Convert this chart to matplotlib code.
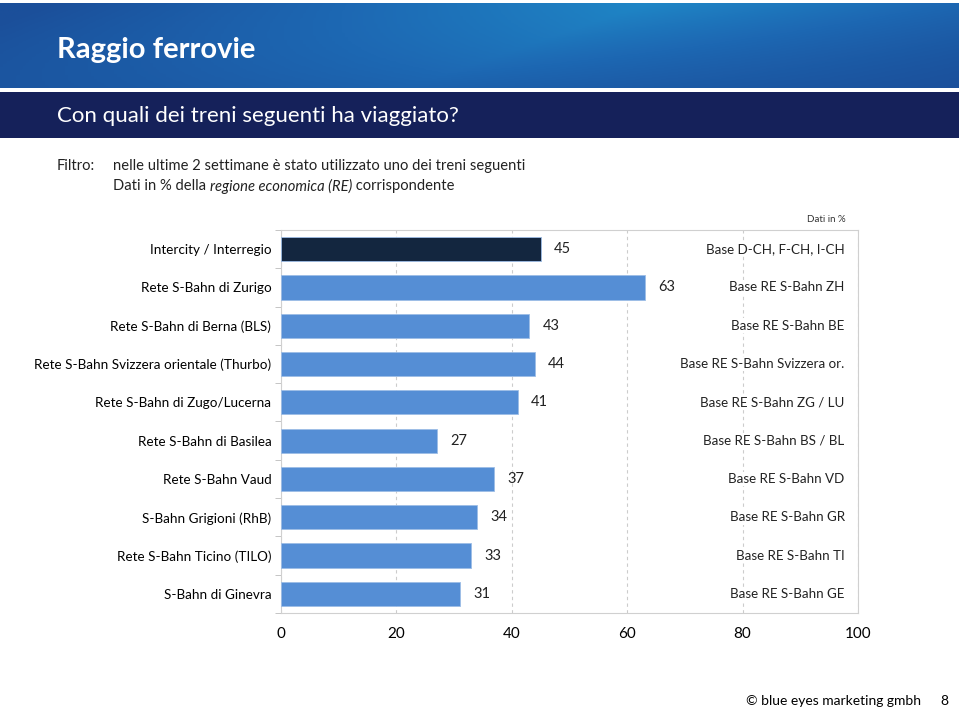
import numpy as np
import matplotlib.pyplot as plt
from matplotlib.colors import LinearSegmentedColormap

plt.rcParams['font.family'] = ['Lato', 'DejaVu Sans']

## Data
categories = ['Intercity / Interregio', 'Rete S-Bahn di Zurigo', 'Rete S-Bahn di Berna (BLS)',
              'Rete S-Bahn Svizzera orientale (Thurbo)', 'Rete S-Bahn di Zugo/Lucerna',
              'Rete S-Bahn di Basilea', 'Rete S-Bahn Vaud', 'S-Bahn Grigioni (RhB)',
              'Rete S-Bahn Ticino (TILO)', 'S-Bahn di Ginevra']
values = [45, 63, 43, 44, 41, 27, 37, 34, 33, 31]
bases = ['Base D-CH, F-CH, I-CH', 'Base RE S-Bahn ZH', 'Base RE S-Bahn BE',
         'Base RE S-Bahn Svizzera or.', 'Base RE S-Bahn ZG / LU', 'Base RE S-Bahn BS / BL',
         'Base RE S-Bahn VD', 'Base RE S-Bahn GR', 'Base RE S-Bahn TI', 'Base RE S-Bahn GE']
xticks = [0, 20, 40, 60, 80, 100]

fig = plt.figure(figsize=(9.59, 7.08), dpi=100)

## Header bands
hdr = fig.add_axes([0, 1 - 88/708, 1, 85/708])
xx = np.linspace(0, 1, 300)
yy = np.linspace(0, 1, 60)
X, Y = np.meshgrid(xx, yy)
g = np.clip(1 - np.abs(X - 0.55 - 0.25*(Y - 0.5)) * 1.6, 0, 1) * (0.4 + 0.6*Y)
cmap = LinearSegmentedColormap.from_list('hb', ['#1b4f9a', '#1d68b3', '#1f86c6'])
hdr.imshow(g, cmap=cmap, aspect='auto', extent=[0, 1, 0, 1], origin='lower')
hdr.axis('off')
fig.text(57/959, 1 - 50/708, 'Raggio ferrovie', color='white', fontsize=21,
         fontweight='bold', va='center')

sub = fig.add_axes([0, 1 - 138/708, 1, 46/708])
sub.set_facecolor('#15215a')
sub.set_xticks([]); sub.set_yticks([])
for s in sub.spines.values():
    s.set_visible(False)
fig.text(57/959, 1 - 116/708, 'Con quali dei treni seguenti ha viaggiato?', color='white',
         fontsize=16, va='center')

## Filter text
fs = 10.6
fig.text(57/959, 1 - 166/708, 'Filtro:', fontsize=fs, va='center', color='#222222')
fig.text(113/959, 1 - 166/708, 'nelle ultime 2 settimane è stato utilizzato uno dei treni seguenti',
         fontsize=fs, va='center', color='#222222')
t = fig.text(113/959, 1 - 186/708, 'Dati in % della ', fontsize=fs, va='center', color='#222222')
fig.canvas.draw()
bb = t.get_window_extent()
t2 = fig.text(bb.x1/959, 1 - 186/708, 'regione economica (RE)', fontsize=fs, va='center',
              style='italic', color='#222222')
bb2 = t2.get_window_extent()
fig.text(bb2.x1/959, 1 - 186/708, ' corrispondente', fontsize=fs, va='center', color='#222222')

## Chart
ax = fig.add_axes([281/959, 1 - 613/708, 577/959, 383/708])
y = np.arange(len(categories))
colors = ['#13263f'] + ['#558ed5'] * (len(values) - 1)
ax.barh(y, values, height=0.63, color=colors, edgecolor='#9dbde6', linewidth=0.6, zorder=3)
for i, v in enumerate(values):
    ax.text(v + 2.3, i, str(v), va='center', ha='left', fontsize=10.5, color='#222222', zorder=4)
    ax.text(97.7, i, bases[i], va='center', ha='right', fontsize=9.6, color='#222222', zorder=4,
            bbox=dict(facecolor='white', edgecolor='none', pad=1))
ax.set_ylim(len(categories) - 0.5, -0.5)
ax.set_xlim(0, 100)
ax.set_xticks(xticks)
ax.set_xticklabels([str(x) for x in xticks], fontsize=11)
ax.set_yticks(y)
ax.set_yticklabels(categories, fontsize=9.7)
ax.set_yticks(np.arange(len(categories) + 1) - 0.5, minor=True)
ax.tick_params(axis='y', which='major', length=0, pad=7)
ax.tick_params(axis='y', which='minor', length=4, color='#bbbbbb')
ax.tick_params(axis='x', length=0, pad=10)
ax.xaxis.grid(True, linestyle=(0, (3, 3)), color='#cccccc', linewidth=0.8, zorder=0)
for s in ax.spines.values():
    s.set_color('#d0d0d0')
fig.text(846/959, 1 - 220/708, 'Dati in %', fontsize=7, ha='right', va='center', color='#333333')

## Footer
fig.text(921/959, 1 - 701/708, '© blue eyes marketing gmbh', fontsize=10, ha='right', va='center')
fig.text(944/959, 1 - 701/708, '8', fontsize=10, ha='center', va='center')

plt.savefig('out.png', dpi=100)
